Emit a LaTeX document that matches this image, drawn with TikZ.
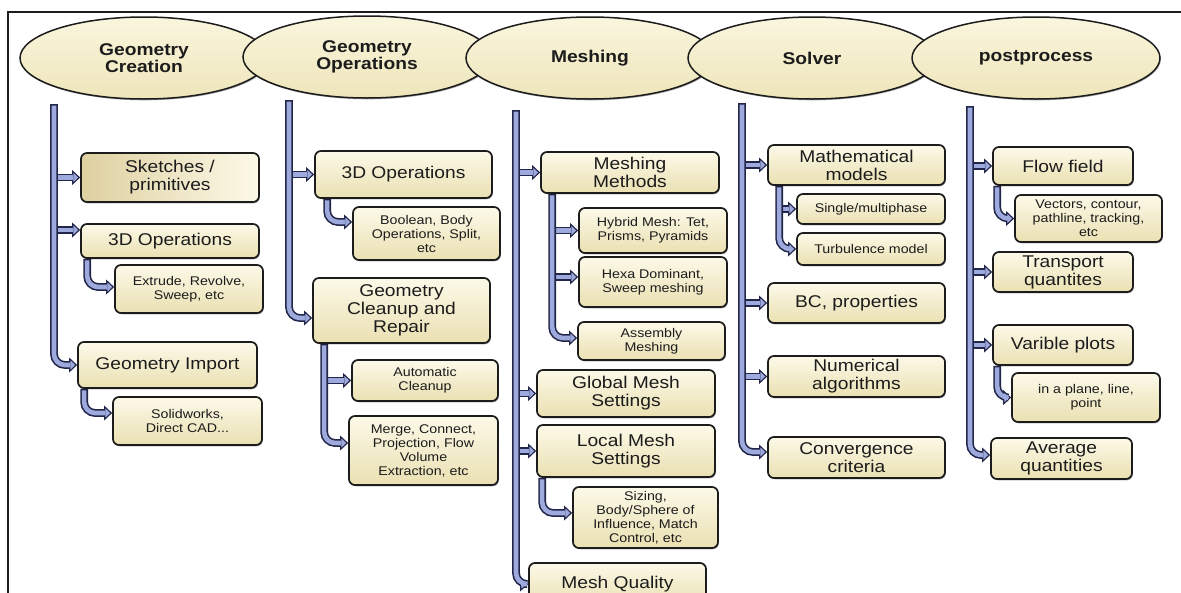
\documentclass[tikz,border=0pt]{standalone}
\usepackage{fontspec}
\setmainfont{Liberation Sans}[FakeStretch=1.13]
\usetikzlibrary{arrows.meta,shapes.geometric,shadows}
\definecolor{pipefill}{RGB}{158,170,222}
\definecolor{pipeline}{RGB}{34,38,72}
\definecolor{boxtop}{RGB}{252,249,232}
\definecolor{boxbot}{RGB}{234,224,178}
\definecolor{boxtan}{RGB}{222,208,160}
\definecolor{ovaltop}{RGB}{250,246,222}
\definecolor{ovalbot}{RGB}{238,229,186}
\definecolor{ink}{RGB}{28,28,28}
\pgfdeclarelayer{pipes}
\pgfsetlayers{pipes,main}
\tikzset{
  soft shadow/.style={drop shadow={shadow xshift=0.8pt, shadow yshift=-1.3pt,
    opacity=0.35, fill=black}},
  box/.style={draw=ink, line width=1.7pt, rounded corners=6pt, top color=boxtop,
    bottom color=boxbot, inner sep=0pt, align=center, text=ink, soft shadow},
  mainbox/.style={box, font=\fontsize{17}{18}\selectfont},
  subbox/.style={box, font=\fontsize{12.6}{14}\selectfont},
  stage/.style={ellipse, draw=ink, line width=1.5pt, top color=ovaltop, bottom color=ovalbot,
    minimum width=248pt, minimum height=82pt, inner sep=0pt, align=center, text=ink,
    font=\bfseries\fontsize{17}{17}\selectfont, soft shadow},
  pipe/.style={draw=pipeline, line width=7.8pt, rounded corners=11pt,
    -{Triangle[length=8pt,width=15pt,line width=0pt]},
    postaction={draw=pipefill, line width=4.6pt,
      -{Triangle[length=4.8pt,width=9pt,line width=0pt]},
      shorten >=1.9pt, shorten <=1.6pt}}
}
\begin{document}
\begin{tikzpicture}[x={(1pt,0pt)}, y={(0pt,-1pt)}]
\useasboundingbox (0,0) rectangle (1181,592);
\clip (0,0) rectangle (1181,592);

% outer frame (top and left edges)
\draw[line width=1.8pt, ink] (8,600) -- (8,12) -- (1190,12);

% stage ovals, each drawn over its left neighbour
\node[stage] (s1) at (144,58) {Geometry\\Creation};
\node[stage] (s2) at (367,57) {Geometry\\Operations};
\node[stage] (s3) at (590,58) {Meshing};
\node[stage] (s4) at (812,58) {Solver};
\node[stage] (s5) at (1036,58) {postprocess};

% tops of the vertical bars
\coordinate (b1) at (54,104);
\coordinate (b2) at (289,100);
\coordinate (b3) at (516,110);
\coordinate (b4) at (742,103);
\coordinate (b5) at (970,106);

% ---- Geometry Creation
\node[mainbox, left color=boxtan, right color=boxtop, minimum width=178pt, minimum height=49pt] (sk) at (170,177.5) {Sketches /\\primitives};
\node[mainbox, minimum width=178pt, minimum height=34pt] (op1) at (170,241) {3D Operations};
\node[subbox, minimum width=148pt, minimum height=48pt] (ext) at (189,289) {Extrude, Revolve,\\Sweep, etc};
\node[mainbox, minimum width=179pt, minimum height=46pt] (gi) at (167.5,365) {Geometry Import};
\node[subbox, minimum width=149pt, minimum height=48pt] (sw) at (187.5,421) {Solidworks,\\Direct CAD...};

% ---- Geometry Operations
\node[mainbox, minimum width=177pt, minimum height=47pt] (op2) at (403.5,174.5) {3D Operations};
\node[subbox, minimum width=147pt, minimum height=53pt] (bool) at (426.5,233.5) {Boolean, Body\\Operations, Split,\\etc};
\node[mainbox, minimum width=177pt, minimum height=65pt] (gc) at (401.5,310.5) {Geometry\\Cleanup and\\Repair};
\node[subbox, minimum width=146pt, minimum height=41pt] (ac) at (425,380.5) {Automatic\\Cleanup};
\node[subbox, minimum width=149pt, minimum height=69pt] (mg) at (423.5,450.5) {Merge, Connect,\\Projection, Flow\\Volume\\Extraction, etc};

% ---- Meshing
\node[mainbox, minimum width=178pt, minimum height=41pt] (mm) at (630,172.5) {Meshing\\Methods};
\node[subbox, minimum width=148pt, minimum height=45pt] (hy) at (653,230.5) {Hybrid Mesh: Tet,\\Prisms, Pyramids};
\node[subbox, minimum width=148pt, minimum height=50pt] (hx) at (653,282) {Hexa Dominant,\\Sweep meshing};
\node[subbox, minimum width=147pt, minimum height=38pt] (asm) at (651.5,341) {Assembly\\Meshing};
\node[mainbox, minimum width=178pt, minimum height=47pt] (gm) at (626,393.5) {Global Mesh\\Settings};
\node[mainbox, minimum width=178pt, minimum height=52pt] (lm) at (626,451) {Local Mesh\\Settings};
\node[subbox, minimum width=145pt, minimum height=61pt] (sz) at (645.5,517.5) {Sizing,\\Body/Sphere of\\Influence, Match\\Control, etc};
\node[mainbox, minimum width=177pt, minimum height=42pt] (mq) at (617.5,584) {Mesh Quality};

% ---- Solver
\node[mainbox, minimum width=177pt, minimum height=40pt] (mat) at (856.5,165) {Mathematical\\models};
\node[subbox, minimum width=148pt, minimum height=30pt] (sm) at (871,209) {Single/multiphase};
\node[subbox, minimum width=148pt, minimum height=32pt] (tm) at (871,249) {Turbulence model};
\node[mainbox, minimum width=177pt, minimum height=40pt] (bc) at (856.5,303) {BC, properties};
\node[mainbox, minimum width=177pt, minimum height=41pt] (na) at (856.5,376.5) {Numerical\\algorithms};
\node[mainbox, minimum width=177pt, minimum height=41pt] (cc) at (856.5,457.5) {Convergence\\criteria};

% ---- postprocess
\node[mainbox, minimum width=140pt, minimum height=38pt] (ff) at (1063,166) {Flow field};
\node[subbox, minimum width=147pt, minimum height=47pt] (vec) at (1088.5,218.5) {Vectors, contour,\\pathline, tracking,\\etc};
\node[mainbox, minimum width=140pt, minimum height=40pt] (tq) at (1063,272) {Transport\\quantites};
\node[mainbox, minimum width=140pt, minimum height=40pt] (vp) at (1063,345) {Varible plots};
\node[subbox, minimum width=148pt, minimum height=49pt] (pl) at (1086,397.5) {in a plane, line,\\point};
\node[mainbox, minimum width=141pt, minimum height=41pt] (aq) at (1061.5,458.5) {Average\\quantities};

% entry points that sit off the middle of a box side
\coordinate (op1in) at ([yshift=11pt]op1.west);
\coordinate (extin) at ([yshift=2pt]ext.west);
\coordinate (swin) at ([yshift=8pt]sw.west);
\coordinate (boolin) at ([yshift=11.5pt]bool.west);
\coordinate (gcin) at ([yshift=-7.5pt]gc.west);
\coordinate (mgin) at ([yshift=7.5pt]mg.west);
\coordinate (hxin) at ([yshift=5pt]hx.west);
\coordinate (asmin) at ([yshift=3pt]asm.west);
\coordinate (szin) at ([yshift=4.5pt]sz.west);
\coordinate (ccin) at ([yshift=5.5pt]cc.west);
\coordinate (aqin) at ([yshift=3.5pt]aq.west);

% starting points of the sub-item links under their parent boxes
\coordinate (op1x) at ([xshift=7pt]op1.south west);
\coordinate (gix) at ([xshift=7pt]gi.south west);
\coordinate (op2x) at ([xshift=13pt]op2.south west);
\coordinate (gcx) at ([xshift=12pt]gc.south west);
\coordinate (mmx) at ([xshift=12pt]mm.south west);
\coordinate (lmx) at ([xshift=6pt]lm.south west);
\coordinate (matx) at ([xshift=12pt]mat.south west);
\coordinate (ffx) at ([xshift=5pt]ff.south west);
\coordinate (vpx) at ([xshift=5pt]vp.south west);

\begin{pgfonlayer}{pipes}
% branches leaving the vertical bars
\draw[pipe] (b1 |- sk.west) -- (sk.west);
\draw[pipe] (b1 |- op1in) -- (op1in);
\draw[pipe] (b2 |- op2.west) -- (op2.west);
\draw[pipe] (b3 |- mm.west) -- (mm.west);
\draw[pipe] (b3 |- gm.west) -- (gm.west);
\draw[pipe] (b3 |- lm.west) -- (lm.west);
\draw[pipe] (b4 |- mat.west) -- (mat.west);
\draw[pipe] (b4 |- bc.west) -- (bc.west);
\draw[pipe] (b4 |- na.west) -- (na.west);
\draw[pipe] (b5 |- ff.west) -- (ff.west);
\draw[pipe] (b5 |- tq.west) -- (tq.west);
\draw[pipe] (b5 |- vp.west) -- (vp.west);

% sub-item links below the boxes
\draw[pipe] (op1x) |- (extin);
\draw[pipe] (gix) |- (swin);
\draw[pipe] (op2x) |- (boolin);
\draw[pipe] (gcx |- ac.west) -- (ac.west);
\draw[pipe] (gcx) |- (mgin);
\draw[pipe] (mmx |- hy.west) -- (hy.west);
\draw[pipe] (mmx |- hxin) -- (hxin);
\draw[pipe] (mmx) |- (asmin);
\draw[pipe] (lmx) |- (szin);
\draw[pipe] (matx |- sm.west) -- (sm.west);
\draw[pipe] (matx) |- (tm.west);
\draw[pipe] (ffx) |- (vec.west);
\draw[pipe] (vpx) |- (pl.west);

% main vertical bars, ending in their last box
\draw[pipe] (b1) |- (gi.west);
\draw[pipe] (b2) |- (gcin);
\draw[pipe] (b3) |- (mq.west);
\draw[pipe] (b4) |- (ccin);
\draw[pipe] (b5) |- (aqin);
\end{pgfonlayer}
\end{tikzpicture}
\end{document}
